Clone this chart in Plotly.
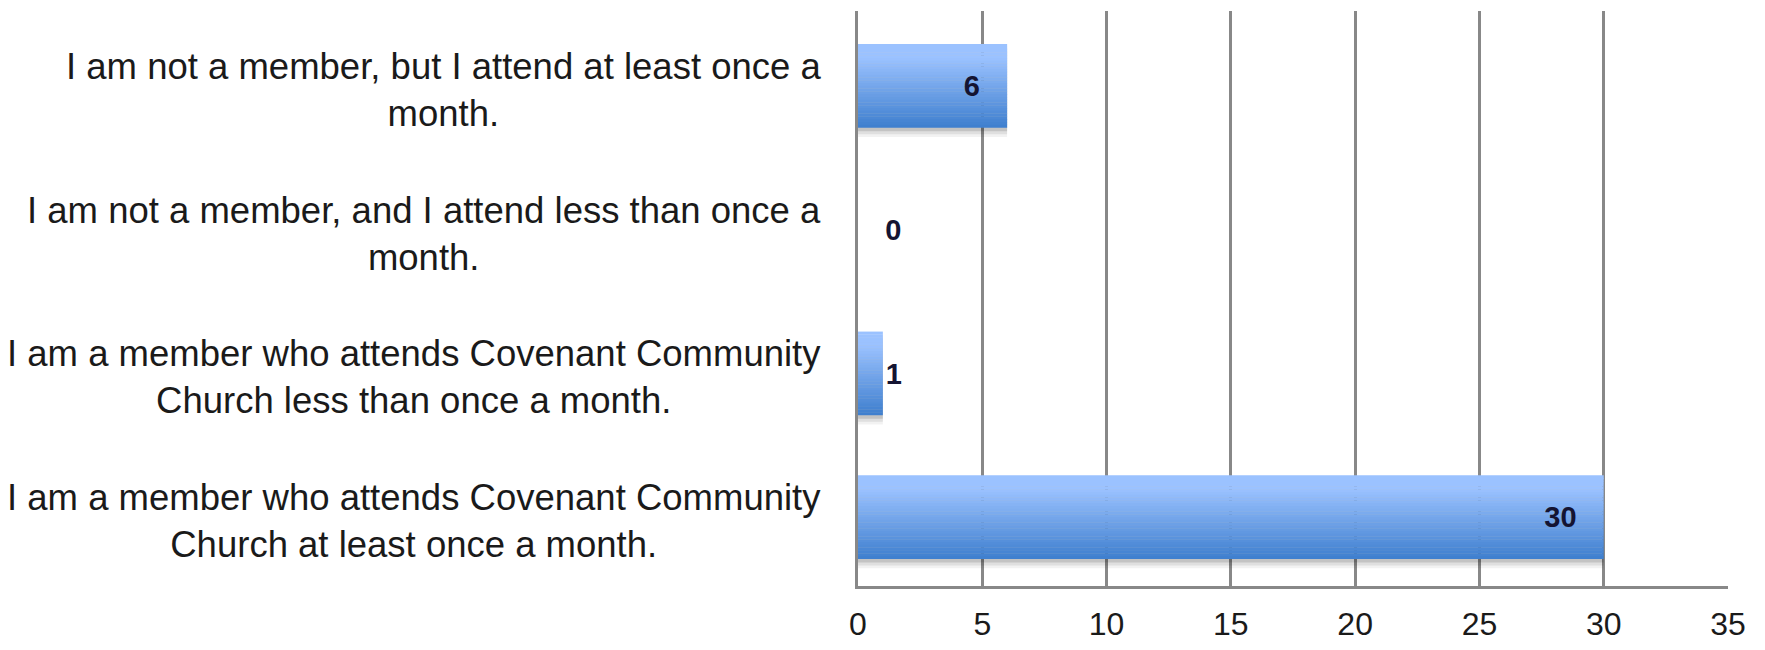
import plotly.graph_objects as go

# Data (listed bottom-to-top as plotted)
categories = [
    "I am a member who attends Covenant Community<br>Church at least once a month.",
    "I am a member who attends Covenant Community<br>Church less than once a month.",
    "I am not a member, and I attend less than once a<br>month.",
    "I am not a member, but I attend at least once a<br>month.",
]
values = [30, 1, 0, 6]
label_positions = ["inside", "outside", "outside", "inside"]
label_templates = [
    "<b>%{x}</b>\u00a0\u00a0\u00a0",
    "<b>%{x}</b>",
    "\u00a0\u00a0\u00a0<b>%{x}</b>",
    "<b>%{x}</b>\u00a0\u00a0\u00a0",
]
x_ticks = [0, 5, 10, 15, 20, 25, 30, 35]

FONT = "Liberation Sans"
BAR_W = 0.58
BAR_SHIFT = -0.022
N_BANDS = 30
top_rgb = (155, 194, 255)
bot_rgb = (64, 128, 207)


def band_color(t):
    # t = 0 at top, 1 at bottom
    u = max(0.0, (t - 0.15) / 0.85)
    c = [round(top_rgb[i] + (bot_rgb[i] - top_rgb[i]) * u) for i in range(3)]
    return "rgb(%d,%d,%d)" % tuple(c)


fig = go.Figure()

# soft shadow under each bar
for k, alpha in enumerate([0.12, 0.08, 0.05]):
    fig.add_trace(go.Bar(
        y=categories, x=values, orientation="h",
        width=BAR_W, offset=-BAR_W / 2 + BAR_SHIFT - 0.025 - k * 0.02,
        marker=dict(color="rgba(0,0,0,%.2f)" % alpha, line=dict(width=0)),
        hoverinfo="skip", showlegend=False,
    ))

# gradient bands
w = BAR_W / N_BANDS
for i in range(N_BANDS):
    t = i / (N_BANDS - 1)
    off = BAR_W / 2 + BAR_SHIFT - (i + 1) * w
    fig.add_trace(go.Bar(
        y=categories, x=values, orientation="h",
        width=w * 1.1, offset=off,
        marker=dict(color=band_color(t), line=dict(width=0)),
        hoverinfo="skip", showlegend=False,
    ))

# value labels
fig.add_trace(go.Bar(
    y=categories, x=values, orientation="h",
    width=BAR_W, offset=-BAR_W / 2 + BAR_SHIFT,
    marker=dict(color="rgba(0,0,0,0)", line=dict(width=0)),
    texttemplate=label_templates,
    textposition=label_positions, insidetextanchor="end",
    textfont=dict(family=FONT, size=29, color="#141432"),
    outsidetextfont=dict(family=FONT, size=29, color="#141432"),
    cliponaxis=False, showlegend=False,
))

for cat in categories:
    fig.add_annotation(
        x=-0.04, xref="paper", y=cat, yref="y", yshift=-7,
        text=cat, showarrow=False, xanchor="right", yanchor="middle",
        align="center", font=dict(family=FONT, size=36.5, color="#1a1a1a"),
    )

fig.update_layout(
    width=1765, height=650,
    margin=dict(l=850, r=45, t=3, b=72),
    paper_bgcolor="white", plot_bgcolor="white",
    barmode="overlay", bargap=0.42,
    font=dict(family=FONT, color="#1a1a1a"),
)
fig.update_xaxes(
    range=[0, 35], tickvals=x_ticks, ticktext=[str(v) for v in x_ticks],
    showgrid=True, gridcolor="#888888", gridwidth=3,
    showline=True, linecolor="#888888", linewidth=3,
    zeroline=False, ticks="", ticklabelstandoff=8,
    tickfont=dict(family=FONT, size=32, color="#1a1a1a"),
)
fig.update_yaxes(
    showticklabels=False, showgrid=False, zeroline=False,
    showline=True, linecolor="#888888", linewidth=3, ticks="",
)

fig.write_html("out.html")
